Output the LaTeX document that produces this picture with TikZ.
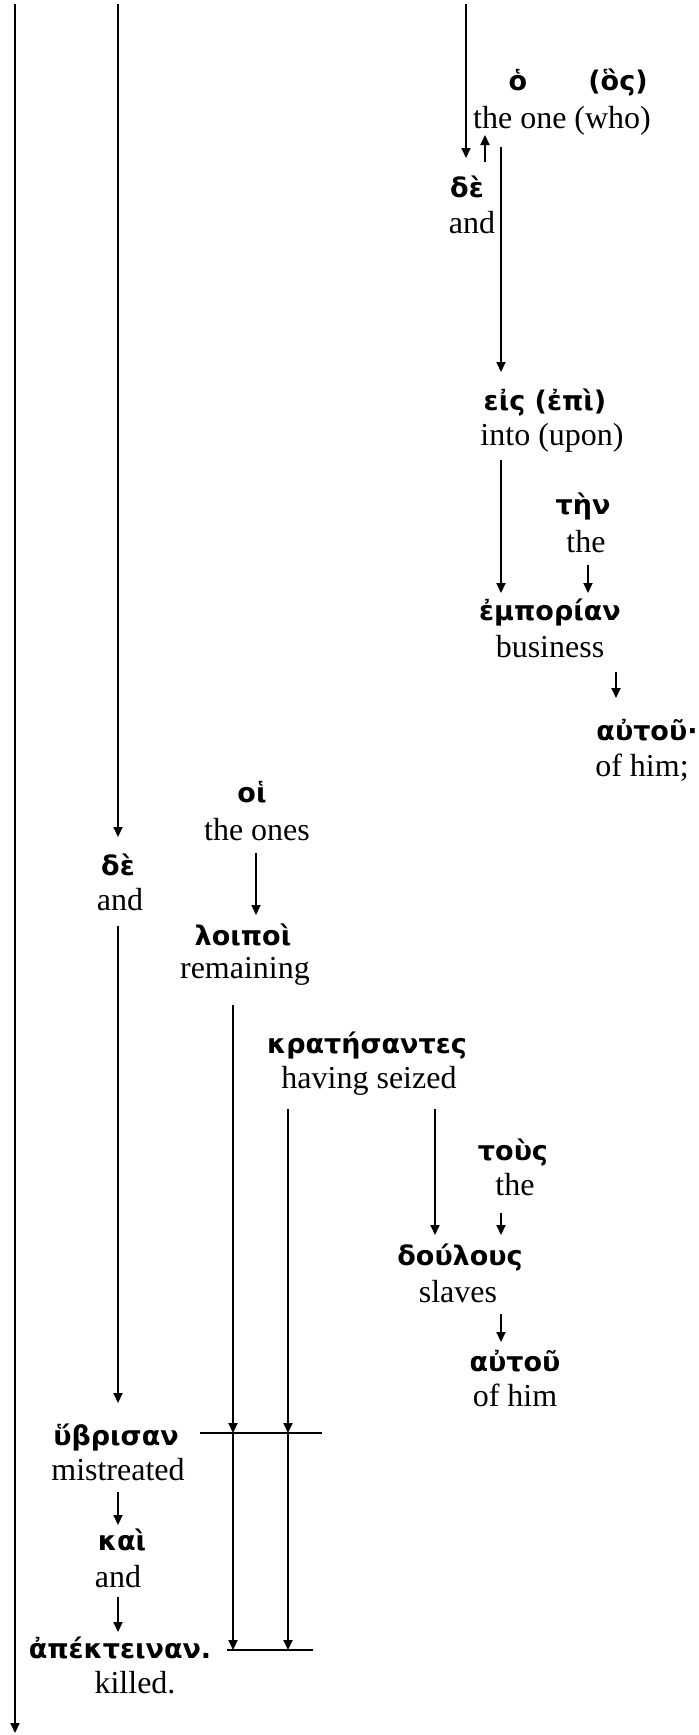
\documentclass[tikz,border=0pt]{standalone}
\usepackage{fontspec}
\setmainfont{Liberation Serif}
\newfontfamily\greekfont{DejaVu Sans}
\usetikzlibrary{calc,arrows.meta}

\tikzset{
	gk/.style={font=\greekfont\bfseries\fontsize{13.5}{16}\selectfont, anchor=base, inner sep=0pt},
	en/.style={font=\fontsize{16}{19}\selectfont, anchor=base, inner sep=0pt},
	arr/.style={line width=1pt, -{Triangle[length=5pt, width=4.5pt]}},
	bar/.style={line width=1pt}
}

\begin{document}
\begin{tikzpicture}[x=0.5pt, y=-0.5pt]
		%%%%% START %%%%%
		\useasboundingbox (0, 0) rectangle (699, 1735);
		
		\coordinate (topL) at (15, 4);
		\coordinate (botL) at (15, 1733);
		\coordinate (top2) at (118, 4);
		\coordinate (top3) at (466, 4);
		\coordinate (bar1l) at (200, 1433);
		\coordinate (bar1r) at (322, 1433);
		\coordinate (bar2l) at (227, 1650);
		\coordinate (bar2r) at (313, 1650);
		
		\node[gk] (ho) at (518, 90) {ὁ};
		\node[gk] (hos) at (618, 90) {(ὃς)};
		\node[en] (theone) at (562, 128) {the one (who)};
		
		\node[gk] (de_a) at (467, 197) {δὲ};
		\node[en] (and_a) at (472, 233) {and};
		
		\node[gk] (eis) at (545, 410) {εἰς (ἐπὶ)};
		\node[en] (into) at (552, 445) {into (upon)};
		
		\node[gk] (ten) at (583, 514) {τὴν};
		\node[en] (the_a) at (586, 552) {the};
		
		\node[gk] (emp) at (550, 620) {ἐμπορίαν};
		\node[en] (business) at (550, 657) {business};
		
		\node[gk] (autou_a) at (647, 740) {αὐτοῦ·};
		\node[en] (ofhim_a) at (642, 776) {of him;};
		
		\node[gk] (hoi) at (252, 802) {οἱ};
		\node[en] (theones) at (257, 840) {the ones};
		
		\node[gk] (de_b) at (118, 875) {δὲ};
		\node[en] (and_b) at (120, 910) {and};
		
		\node[gk] (loipoi) at (243, 945) {λοιποὶ};
		\node[en] (remaining) at (245, 978) {remaining};
		
		\node[gk] (krat) at (367, 1053) {κρατήσαντες};
		\node[en] (seized) at (369, 1088) {having seized};
		
		\node[gk] (tous) at (513, 1160) {τοὺς};
		\node[en] (the_b) at (515, 1195) {the};
		
		\node[gk] (doulous) at (460, 1265) {δούλους};
		\node[en] (slaves) at (458, 1302) {slaves};
		
		\node[gk] (autou_b) at (515, 1371) {αὐτοῦ};
		\node[en] (ofhim_b) at (515, 1406) {of him};
		
		\node[gk] (hybrisan) at (116, 1445) {ὕβρισαν};
		\node[en] (mistreated) at (118, 1480) {mistreated};
		
		\node[gk] (kai) at (122, 1550) {καὶ};
		\node[en] (and_c) at (118, 1587) {and};
		
		\node[gk] (apekt) at (120, 1658) {ἀπέκτειναν.};
		\node[en] (killed) at (135, 1693) {killed.};
		
		\draw[arr] (topL) -- (botL);
		\draw[arr] (top2) -- ($(de_b.base)+(0,-38)$);
		\draw[arr] (top3) -- ($(de_a.base)+(-1,-39)$);
		\draw[arr] ($(de_a.base)+(18,-35)$) -- ($(theone.base)+(-77,7)$);
		\draw[arr] ($(theone.base)+(-61,19)$) -- ($(eis.base)+(-44,-38)$);
		\draw[arr] ($(into.base)+(-51,15)$) -- ($(emp.base)+(-49,-27)$);
		\draw[arr] ($(the_a.base)+(2,13)$) -- ($(emp.base)+(38,-27)$);
		\draw[arr] ($(business.base)+(66,15)$) -- ($(autou_a.base)+(-31,-42)$);
		
		\draw[arr] ($(theones.base)+(-1,13)$) -- ($(loipoi.base)+(13,-30)$);
		\draw[arr] ($(and_b.base)+(-2,16)$) -- ($(hybrisan.base)+(2,-42)$);
		
		\draw[arr] ($(remaining.base)+(-12,27)$) coordinate (r0) -- (r0 |- bar1l);
		\draw[arr] (r0 |- bar1l) -- (r0 |- bar2l);
		\draw[arr] ($(seized.base)+(-81,21)$) coordinate (s0) -- (s0 |- bar1l);
		\draw[arr] (s0 |- bar1l) -- (s0 |- bar2l);
		\draw[bar] (bar1l) -- (bar1r);
		\draw[bar] (bar2l) -- (bar2r);
		
		\draw[arr] ($(seized.base)+(66,21)$) -- ($(doulous.base)+(-25,-30)$);
		\draw[arr] ($(the_b.base)+(-14,18)$) -- ($(doulous.base)+(41,-30)$);
		\draw[arr] ($(slaves.base)+(43,12)$) -- ($(autou_b.base)+(-14,-29)$);
		
		\draw[arr] ($(mistreated.base)+(0,12)$) -- ($(kai.base)+(-4,-25)$);
		\draw[arr] ($(and_c.base)+(0,10)$) -- ($(apekt.base)+(-2,-26)$);
		
		%%%%% END %%%%%
\end{tikzpicture}
\end{document}
